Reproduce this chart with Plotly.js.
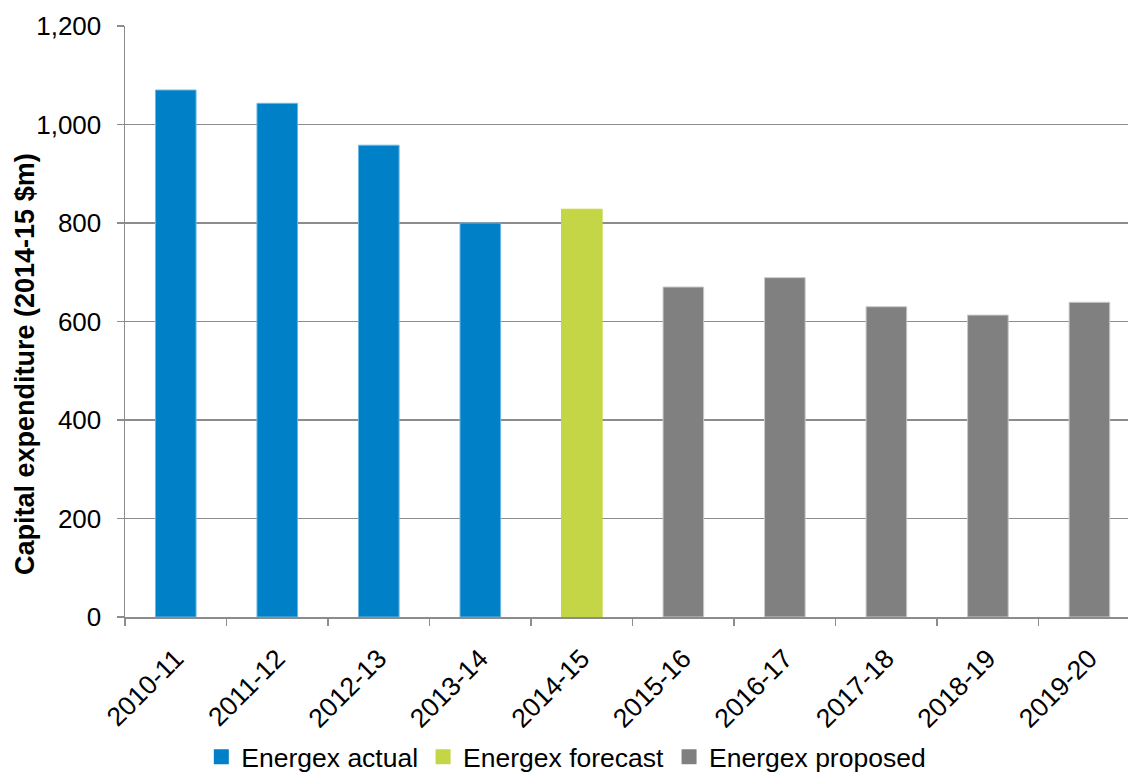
<!DOCTYPE html>
<html>
<head>
<meta charset="utf-8">
<script src="https://cdn.plot.ly/plotly-3.0.1.min.js"></script>
<style>
html,body{margin:0;padding:0;background:#fff;}
#chart{width:1128px;height:778px;}
</style>
</head>
<body>
<div id="chart"></div>
<script>
const categories = ['2010-11','2011-12','2012-13','2013-14','2014-15','2015-16','2016-17','2017-18','2018-19','2019-20'];
const actualYears = ['2010-11','2011-12','2012-13','2013-14'];
const actualValues = [1070, 1043, 958, 800];
const forecastYears = ['2014-15'];
const forecastValues = [828];
const proposedYears = ['2015-16','2016-17','2017-18','2018-19','2019-20'];
const proposedValues = [670, 689, 630, 613, 639];
const yTicks = [0, 200, 400, 600, 800, 1000, 1200];
const yTickText = ['0','200','400','600','800','1,000','1,200'];
const yTitle = 'Capital expenditure (2014-15 $m)';
const seriesNames = ['Energex actual','Energex forecast','Energex proposed'];
const seriesColors = ['#0080C6','#C4D645','#808080'];
const seriesEdges = ['#6fb6e0','#C4D645','#c8c8c8'];

const FONT = 'Liberation Sans, Arial, sans-serif';

const xs = [actualYears, forecastYears, proposedYears];
const ys = [actualValues, forecastValues, proposedValues];

const traces = [];
for (let i = 0; i < 3; i++) {
  traces.push({type:'bar', name:seriesNames[i], x:xs[i], y:ys[i], width:0.4, showlegend:false,
    marker:{color:seriesColors[i], line:{color:seriesEdges[i], width:1}}, hoverinfo:'x+y'});
}
// legend entries (square keys)
for (let i = 0; i < 3; i++) {
  traces.push({type:'scatter', mode:'markers', name:seriesNames[i], x:[null], y:[null],
    marker:{symbol:'square', size:15, color:seriesColors[i]}, showlegend:true, hoverinfo:'skip'});
}

const layout = {
  width:1128, height:778,
  margin:{l:125, r:0, t:26, b:161, pad:0, autoexpand:false},
  paper_bgcolor:'#ffffff', plot_bgcolor:'#ffffff',
  barmode:'overlay',
  font:{family:FONT, color:'#000000', size:26},
  showlegend:true,
  legend:{orientation:'h', x:0.44, xanchor:'center', y:(617-757)/591, yanchor:'middle',
          font:{family:FONT, size:26.5, color:'#000'}, itemwidth:30, traceorder:'normal'},
  xaxis:{
    type:'category', categoryorder:'array', categoryarray:categories,
    range:[-0.5, 9.38], automargin:false,
    showgrid:false, showline:true, linecolor:'#8c8c8c', linewidth:1.5,
    ticks:'outside', tickson:'boundaries', ticklen:7, tickcolor:'#8c8c8c', tickwidth:1.5,
    tickangle:-45, ticklabelstandoff:14, tickfont:{family:FONT, size:26.5, color:'#000'},
    zeroline:false, fixedrange:true
  },
  yaxis:{
    range:[0, 1200], tickvals:yTicks, ticktext:yTickText, automargin:false,
    showgrid:true, gridcolor:'#8c8c8c', gridwidth:1.5,
    showline:true, linecolor:'#8c8c8c', linewidth:1.5,
    ticks:'outside', ticklen:7, tickcolor:'#8c8c8c', tickwidth:1.5,
    ticklabelstandoff:10,
    tickfont:{family:FONT, size:26, color:'#000'},
    zeroline:false, fixedrange:true
  },
  annotations:[{
    text:'<b>' + yTitle + '</b>', textangle:-90, showarrow:false,
    xref:'paper', yref:'paper', x:-125/1003, xanchor:'left', xshift:8,
    y:(617-364)/591, yanchor:'middle',
    font:{family:FONT, size:27, color:'#000'}
  }]
};

Plotly.newPlot('chart', traces, layout, {displayModeBar:false, staticPlot:true});
</script>
</body>
</html>
